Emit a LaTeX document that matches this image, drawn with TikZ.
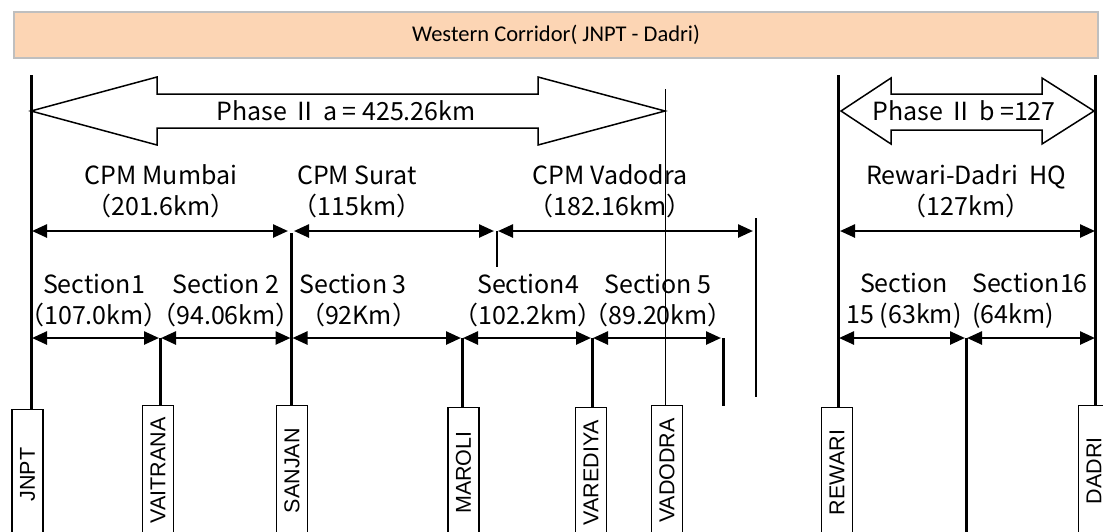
\documentclass[tikz,border=0pt]{standalone}
\usepackage{fontspec}
\setmainfont{Liberation Sans}
\newfontfamily\titlefont{Carlito}
\newfontfamily\jfont{Noto Sans CJK JP}
\usetikzlibrary{arrows.meta}
\definecolor{titlefill}{HTML}{FCD5B4}
\definecolor{titleline}{HTML}{BFBFBF}

\begin{document}
\begin{tikzpicture}[x=1pt, y=-1pt,
  stn/.style={draw, line width=1.2pt, fill=white, rotate=90, anchor=east,
    minimum width=130pt, minimum height=31pt, inner sep=0pt,
    font=\fontsize{21.5}{24}\selectfont},
  lbl/.style={align=center, inner sep=0pt, font=\jfont\fontsize{25}{31}\selectfont},
  dim/.style={line width=2.5pt, {Triangle[length=15pt,width=13pt]}-{Triangle[length=15pt,width=13pt]}},
  bar/.style={line width=3pt},
  hair/.style={line width=1.5pt},
  bigarrow/.style={draw, line width=1.5pt, fill=white}]
\useasboundingbox (0,0) rectangle (1103,531);

% title
\node[draw=titleline, fill=titlefill, line width=1.5pt, minimum width=1084pt, minimum height=46pt,
  font=\titlefont\fontsize{22.5}{26}\selectfont] (title) at (556,35) {Western Corridor( JNPT - Dadri)};

% phase arrows
\draw[bigarrow] (31,111) -- (157,77) -- (157,94) -- (538,94) -- (538,77) -- (665,111)
  -- (538,145) -- (538,128) -- (157,128) -- (157,145) -- cycle;
\node[lbl] (pha) at (346,111) {Phase Ⅱ a = 425.26km};
\draw[bigarrow] (841,111) -- (891,78) -- (891,94) -- (1042,94) -- (1042,78) -- (1094,111)
  -- (1042,144) -- (1042,130) -- (891,130) -- (891,144) -- cycle;
\node[lbl] (phb) at (964,111) {Phase Ⅱ b =127};

% stations
\node[stn] (jnpt) at (27.5,409) {JNPT};
\node[stn] (vaitrana) at (158,405) {VAITRANA};
\node[stn] (sanjan) at (292,405) {SANJAN};
\node[stn] (maroli) at (463.5,407) {MAROLI};
\node[stn] (varediya) at (591,407) {VAREDIYA};
\node[stn] (vadodra) at (667,405) {VADODRA};
\node[stn] (rewari) at (837,407) {REWARI};
\node[stn] (dadri) at (1094,405) {DADRI};

% CPM row
\coordinate (k0) at (31,231);
\coordinate (k1) at (291,231);
\coordinate (k2) at (497,231);
\coordinate (k3) at (756,231);
\coordinate (k4) at (838,231);
\coordinate (k5) at (1095,231);

% section row
\coordinate (s0) at (31,338);
\coordinate (s1) at (160,338);
\coordinate (s2) at (291.5,338);
\coordinate (s3) at (462,338);
\coordinate (s4) at (592,338);
\coordinate (s5) at (723,338);
\coordinate (r0) at (838,338);
\coordinate (r1) at (966,338);
\coordinate (r2) at (1095,338);

% vertical lines
\draw[bar] (31,75) -- (31,75 |- jnpt.east);
\draw[bar] (838,75) -- (838,75 |- rewari.east);
\draw[bar] (1095,75) -- (1095,75 |- dadri.east);
\draw[hair] (665.5,89) -- (665.5,89 |- vadodra.east);
\draw[bar] (291.5,233) -- (291.5,233 |- sanjan.east);
\draw[bar] (s1) -- (s1 |- vaitrana.east);
\draw[bar] (s3) -- (s3 |- maroli.east);
\draw[bar] (s4) -- (s4 |- varediya.east);
\draw[bar] (s5) -- ++(0,68);
\draw[bar] (r1) -- ++(0,200);
\draw[hair] (k2) -- ++(0,36);
\draw[hair] (756,218) -- (756,397);

% dimension arrows
\draw[dim, shorten <=1pt, shorten >=3pt] (k0) -- (k1);
\draw[dim, shorten <=3pt, shorten >=3pt] (k1) -- (k2);
\draw[dim, shorten <=1pt, shorten >=3pt] (k2) -- (k3);
\draw[dim, shorten <=2pt] (k4) -- (k5);
\draw[dim, shorten <=1pt, shorten >=1pt] (s0) -- (s1);
\draw[dim, shorten <=1pt, shorten >=1pt] (s1) -- (s2);
\draw[dim, shorten <=1pt, shorten >=1pt] (s2) -- (s3);
\draw[dim, shorten <=1pt, shorten >=1pt] (s3) -- (s4);
\draw[dim, shorten <=1pt, shorten >=2pt] (s4) -- (s5);
\draw[dim, shorten <=1pt, shorten >=1pt] (r0) -- (r1);
\draw[dim, shorten <=1pt] (r1) -- (r2);

% labels
\node[lbl] (mumbai) at (161,191.5) {CPM Mumbai\\（201.6km）};
\node[lbl] (surat) at (357,191.5) {CPM Surat\\（115km）};
\node[lbl] (vdr) at (610,191.5) {CPM Vadodra\\（182.16km）};
\node[lbl] (hq) at (966,191.5) {Rewari-Dadri\ \ HQ\\（127km）};
\node[lbl] (sec1) at (94,301) {Section1\\（107.0km）};
\node[lbl] (sec2) at (226,301) {Section 2\\（94.06km）};
\node[lbl] (sec3) at (353,301) {Section 3\\\ \ （92Km）};
\node[lbl] (sec4) at (528,301) {Section4\\（102.2km）};
\node[lbl] (sec5) at (658,301) {Section 5\\（89.20km）};
\node[lbl] (sec15) at (904,301) {Section\\15 (63km)};
\node[lbl, align=left] (sec16) at (1030,301) {Section16\\(64km)};
\end{tikzpicture}
\end{document}
